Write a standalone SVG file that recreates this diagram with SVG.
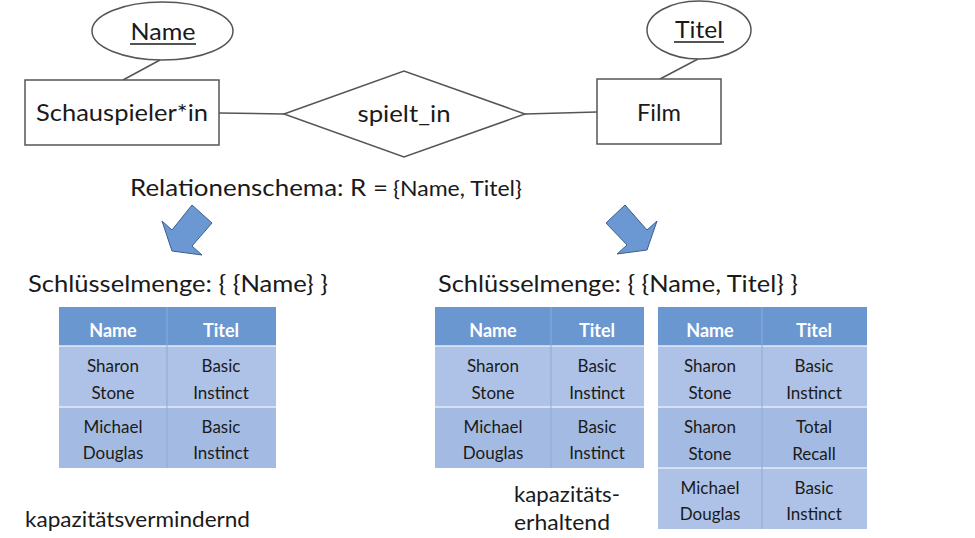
<svg xmlns="http://www.w3.org/2000/svg" width="975" height="538" viewBox="0 0 975 538">
<style>
.shape{fill:#ffffff;stroke:#555555;stroke-width:1.5}
.conn{stroke:#555555;stroke-width:1.5;fill:none}
.t{font-family:Lato,"Open Sans","Liberation Sans",sans-serif;fill:#1a1a1a}
.lbl{font-size:24px;text-anchor:middle}
.big{font-size:24px}
.hd{font-family:Lato,"Open Sans","Liberation Sans",sans-serif;font-weight:bold;font-size:18px;fill:#ffffff;text-anchor:middle}
.cell{font-family:Lato,"Open Sans","Liberation Sans",sans-serif;font-size:17px;fill:#1a1a1a;text-anchor:middle}
.hbg{fill:#6a97d0}
.r1{fill:#adc2e6}
.r2{fill:#a3bbe2}
.sep{stroke:#e4ecf8;stroke-width:1.5}
.col{stroke:#8eaad8;stroke-width:1}
.arrow{fill:#6b98d3;stroke:#3d5f8c;stroke-width:1}
</style>
<rect width="975" height="538" fill="#ffffff"/>

<g id="connectors">
<line class="conn" x1="160" y1="60" x2="123" y2="80"/>
<line class="conn" x1="219" y1="113" x2="284" y2="114"/>
<line class="conn" x1="525" y1="114" x2="597" y2="112"/>
<line class="conn" x1="698" y1="59" x2="660" y2="79"/>
</g>

<g id="attr-name">
<ellipse class="shape" cx="162.5" cy="31" rx="70.5" ry="29"/>
<text class="t lbl" x="163" y="40" textLength="65" lengthAdjust="spacingAndGlyphs">Name</text>
<line x1="130" y1="44" x2="196" y2="44" stroke="#1a1a1a" stroke-width="1.5"/>
</g>

<g id="entity-schauspieler">
<rect class="shape" x="25" y="80" width="194" height="65"/>
<text class="t lbl" x="122" y="121" textLength="172" lengthAdjust="spacingAndGlyphs">Schauspieler*in</text>
</g>

<g id="rel-spielt-in">
<polygon class="shape" points="284,114 404,71 525,114 404,157"/>
<text class="t lbl" x="404" y="122" textLength="93" lengthAdjust="spacingAndGlyphs">spielt_in</text>
</g>

<g id="entity-film">
<rect class="shape" x="597" y="79" width="124" height="65"/>
<text class="t lbl" x="659" y="121" textLength="44" lengthAdjust="spacingAndGlyphs">Film</text>
</g>

<g id="attr-titel">
<ellipse class="shape" cx="699" cy="30" rx="52" ry="29"/>
<text class="t lbl" x="699" y="38" textLength="48" lengthAdjust="spacingAndGlyphs">Titel</text>
<line x1="674" y1="42" x2="724" y2="42" stroke="#1a1a1a" stroke-width="1.5"/>
</g>

<g id="schema">
<text class="t big" x="130" y="196" textLength="258" lengthAdjust="spacingAndGlyphs">Relationenschema: R =</text>
<text class="t" x="393" y="196" font-size="21" textLength="129" lengthAdjust="spacingAndGlyphs">{Name, Titel}</text>
</g>

<g id="arrow-left">
<polygon class="arrow" points="192,205 212,223 192,246 202,255 172,251 162,221 172,230"/>
</g>
<g id="arrow-right">
<polygon class="arrow" points="625,205 606,223 627,245 617,254 647,250 657,221 647,230"/>
</g>

<g id="key-left">
<text class="t big" x="28" y="292" textLength="300" lengthAdjust="spacingAndGlyphs">Schlüsselmenge: { {Name} }</text>
</g>
<g id="key-right">
<text class="t big" x="438" y="292" textLength="360" lengthAdjust="spacingAndGlyphs">Schlüsselmenge: { {Name, Titel} }</text>
</g>

<g id="table-left">
<rect class="hbg" x="59" y="307" width="217" height="39"/>
<rect class="r1" x="59" y="346" width="217" height="61"/>
<rect class="r2" x="59" y="407" width="217" height="61"/>
<line class="sep" x1="59" y1="346" x2="276" y2="346"/>
<line class="sep" x1="59" y1="407" x2="276" y2="407"/>
<line class="col" x1="167" y1="307" x2="167" y2="468"/>
<text class="hd" x="113" y="337">Name</text>
<text class="hd" x="221" y="337">Titel</text>
<text class="cell" x="113" y="372">Sharon</text>
<text class="cell" x="113" y="399">Stone</text>
<text class="cell" x="221" y="372">Basic</text>
<text class="cell" x="221" y="399">Instinct</text>
<text class="cell" x="113" y="433">Michael</text>
<text class="cell" x="113" y="459">Douglas</text>
<text class="cell" x="221" y="433">Basic</text>
<text class="cell" x="221" y="459">Instinct</text>
</g>

<g id="table-middle">
<rect class="hbg" x="435" y="307" width="209" height="39"/>
<rect class="r1" x="435" y="346" width="209" height="61"/>
<rect class="r2" x="435" y="407" width="209" height="61"/>
<line class="sep" x1="435" y1="346" x2="644" y2="346"/>
<line class="sep" x1="435" y1="407" x2="644" y2="407"/>
<line class="col" x1="551" y1="307" x2="551" y2="468"/>
<text class="hd" x="493" y="337">Name</text>
<text class="hd" x="597" y="337">Titel</text>
<text class="cell" x="493" y="372">Sharon</text>
<text class="cell" x="493" y="399">Stone</text>
<text class="cell" x="597" y="372">Basic</text>
<text class="cell" x="597" y="399">Instinct</text>
<text class="cell" x="493" y="433">Michael</text>
<text class="cell" x="493" y="459">Douglas</text>
<text class="cell" x="597" y="433">Basic</text>
<text class="cell" x="597" y="459">Instinct</text>
</g>

<g id="table-right">
<rect class="hbg" x="658" y="307" width="209" height="39"/>
<rect class="r1" x="658" y="346" width="209" height="61"/>
<rect class="r2" x="658" y="407" width="209" height="61"/>
<rect class="r1" x="658" y="468" width="209" height="61"/>
<line class="sep" x1="658" y1="346" x2="867" y2="346"/>
<line class="sep" x1="658" y1="407" x2="867" y2="407"/>
<line class="sep" x1="658" y1="468" x2="867" y2="468"/>
<line class="col" x1="762" y1="307" x2="762" y2="529"/>
<text class="hd" x="710" y="337">Name</text>
<text class="hd" x="814" y="337">Titel</text>
<text class="cell" x="710" y="372">Sharon</text>
<text class="cell" x="710" y="399">Stone</text>
<text class="cell" x="814" y="372">Basic</text>
<text class="cell" x="814" y="399">Instinct</text>
<text class="cell" x="710" y="433">Sharon</text>
<text class="cell" x="710" y="460">Stone</text>
<text class="cell" x="814" y="433">Total</text>
<text class="cell" x="814" y="460">Recall</text>
<text class="cell" x="710" y="494">Michael</text>
<text class="cell" x="710" y="520">Douglas</text>
<text class="cell" x="814" y="494">Basic</text>
<text class="cell" x="814" y="520">Instinct</text>
</g>

<g id="label-vermindernd">
<text class="t" x="25" y="527" font-size="21" textLength="225" lengthAdjust="spacingAndGlyphs">kapazitätsvermindernd</text>
</g>
<g id="label-erhaltend">
<text class="t" x="514" y="502" font-size="21" textLength="106" lengthAdjust="spacingAndGlyphs">kapazitäts-</text>
<text class="t" x="514" y="530" font-size="21" textLength="96" lengthAdjust="spacingAndGlyphs">erhaltend</text>
</g>
</svg>
